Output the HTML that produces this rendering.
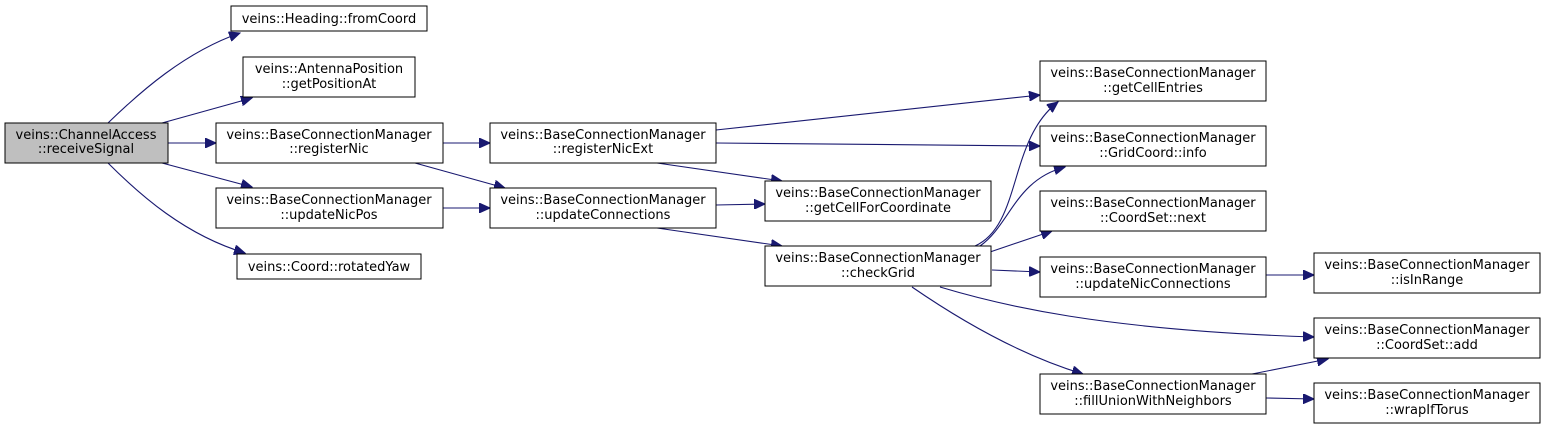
<!DOCTYPE html>
<html><head><meta charset="utf-8"><style>
html,body{margin:0;padding:0;background:#fff;}
svg{display:block;}
text{font-family:"DejaVu Sans","Liberation Sans",sans-serif;font-size:13px;fill:#000;text-anchor:middle;}
rect{fill:#fff;stroke:#000;stroke-width:1;}
path{fill:none;stroke:#191970;stroke-width:1.1;}
</style></head><body>
<svg width="1547" height="430" viewBox="0 0 1547 430" xmlns="http://www.w3.org/2000/svg">
<defs>
<marker id="a" markerUnits="userSpaceOnUse" markerWidth="12" markerHeight="10" refX="11" refY="5" orient="auto">
<path d="M0,0 L11,5 L0,10 Z" style="fill:#191970;stroke:#191970;stroke-width:1"/>
</marker>
</defs>
<g>
<path d="M108,123 C140,92 185,52 240,33" marker-end="url(#a)"/>
<path d="M162,123 L252,98" marker-end="url(#a)"/>
<path d="M168,143 L216,143" marker-end="url(#a)"/>
<path d="M162,163 L252,187" marker-end="url(#a)"/>
<path d="M108,163 C140,195 185,235 245,253" marker-end="url(#a)"/>
<path d="M443,143 L490,143" marker-end="url(#a)"/>
<path d="M415,163 L505,188" marker-end="url(#a)"/>
<path d="M443,208 L490,208" marker-end="url(#a)"/>
<path d="M716,130 L1040,95" marker-end="url(#a)"/>
<path d="M716,143 L1040,146" marker-end="url(#a)"/>
<path d="M657,163 L782,181" marker-end="url(#a)"/>
<path d="M716,205 L765,204" marker-end="url(#a)"/>
<path d="M657,228 L782,246" marker-end="url(#a)"/>
<path d="M975,246 C1022,225 1008,140 1058,102" marker-end="url(#a)"/>
<path d="M980,246 C1010,225 1015,180 1065,167" marker-end="url(#a)"/>
<path d="M990,252 L1052,231" marker-end="url(#a)"/>
<path d="M992,270 L1040,272" marker-end="url(#a)"/>
<path d="M940,287 C1000,305 1100,330 1314,337" marker-end="url(#a)"/>
<path d="M912,287 C960,320 1020,355 1083,374" marker-end="url(#a)"/>
<path d="M1266,275 L1314,275" marker-end="url(#a)"/>
<path d="M1252,374 L1328,359" marker-end="url(#a)"/>
<path d="M1266,398 L1314,399" marker-end="url(#a)"/>
</g>
<g>
<rect x="5" y="123" width="163" height="40" style="fill:#bfbfbf"/>
<text x="86" y="139">veins::ChannelAccess</text><text x="86" y="153">::receiveSignal</text>

<rect x="231" y="6" width="196" height="25"/>
<text x="329" y="23">veins::Heading::fromCoord</text>

<rect x="243" y="57" width="172" height="40"/>
<text x="329" y="73">veins::AntennaPosition</text><text x="329" y="88">::getPositionAt</text>

<rect x="216" y="123" width="227" height="40"/>
<text x="329" y="139">veins::BaseConnectionManager</text><text x="329" y="153">::registerNic</text>

<rect x="216" y="188" width="227" height="40"/>
<text x="329" y="204">veins::BaseConnectionManager</text><text x="329" y="219">::updateNicPos</text>

<rect x="237" y="254" width="184" height="25"/>
<text x="329" y="271">veins::Coord::rotatedYaw</text>

<rect x="490" y="123" width="226" height="40"/>
<text x="603" y="139">veins::BaseConnectionManager</text><text x="603" y="153">::registerNicExt</text>

<rect x="490" y="188" width="226" height="40"/>
<text x="603" y="204">veins::BaseConnectionManager</text><text x="603" y="219">::updateConnections</text>

<rect x="765" y="181" width="226" height="40"/>
<text x="878" y="197">veins::BaseConnectionManager</text><text x="878" y="212">::getCellForCoordinate</text>

<rect x="765" y="246" width="226" height="40"/>
<text x="878" y="262">veins::BaseConnectionManager</text><text x="878" y="277">::checkGrid</text>

<rect x="1040" y="61" width="226" height="40"/>
<text x="1153" y="77">veins::BaseConnectionManager</text><text x="1153" y="92">::getCellEntries</text>

<rect x="1040" y="126" width="226" height="40"/>
<text x="1153" y="142">veins::BaseConnectionManager</text><text x="1153" y="157">::GridCoord::info</text>

<rect x="1040" y="191" width="226" height="40"/>
<text x="1153" y="207">veins::BaseConnectionManager</text><text x="1153" y="222">::CoordSet::next</text>

<rect x="1040" y="257" width="226" height="40"/>
<text x="1153" y="273">veins::BaseConnectionManager</text><text x="1153" y="288">::updateNicConnections</text>

<rect x="1040" y="374" width="226" height="40"/>
<text x="1153" y="390">veins::BaseConnectionManager</text><text x="1153" y="405">::fillUnionWithNeighbors</text>

<rect x="1314" y="253" width="226" height="40"/>
<text x="1427" y="269">veins::BaseConnectionManager</text><text x="1427" y="284">::isInRange</text>

<rect x="1314" y="318" width="226" height="40"/>
<text x="1427" y="334">veins::BaseConnectionManager</text><text x="1427" y="349">::CoordSet::add</text>

<rect x="1314" y="383" width="226" height="40"/>
<text x="1427" y="399">veins::BaseConnectionManager</text><text x="1427" y="414">::wrapIfTorus</text>
</g>
</svg>
</body></html>
